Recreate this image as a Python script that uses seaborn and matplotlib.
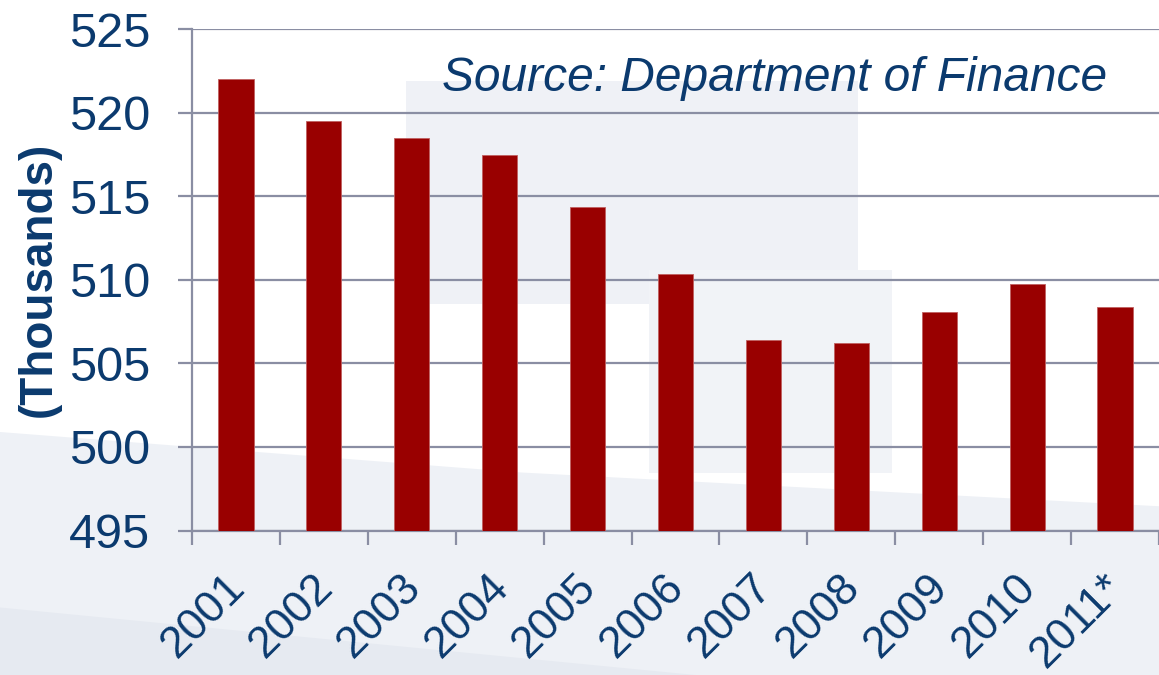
import numpy as np
import pandas as pd
import matplotlib
matplotlib.use("Agg")
import matplotlib.pyplot as plt
from matplotlib.patches import Polygon
from matplotlib.transforms import ScaledTranslation
import seaborn as sns

years = ["2001", "2002", "2003", "2004", "2005", "2006",
         "2007", "2008", "2009", "2010", "2011*"]
enrollment = [522.0, 519.5, 518.5, 517.45, 514.35, 510.35,
              506.4, 506.2, 508.1, 509.75, 508.4]
y_ticks = [495, 500, 505, 510, 515, 520, 525]

navy = "#0b3a6e"
grid_gray = "#8a8ea3"
bar_red = "#990000"

sns.set_style("white")
plt.rcParams["font.family"] = ["Liberation Sans", "DejaVu Sans"]

df = pd.DataFrame({"year": years, "value": enrollment})

fig = plt.figure(figsize=(11.59, 6.75), dpi=100)
fig.patch.set_facecolor("white")

# faint backdrop (washed-out photo look), on its own axes behind everything
bg = fig.add_axes([0, 0, 1, 1], zorder=-10)
bg.set_xlim(0, 1)
bg.set_ylim(0, 1)
bg.axis("off")
bg.add_patch(Polygon([[0, 0], [0, 0.36], [0.45, 0.30], [1, 0.25], [1, 0.0]],
                     closed=True, facecolor="#eef1f6", edgecolor="none"))
bg.add_patch(Polygon([[0, 0], [0, 0.10], [0.6, 0.0]],
                     closed=True, facecolor="#e6eaf1", edgecolor="none"))
bg.add_patch(Polygon([[0.35, 0.55], [0.35, 0.88], [0.74, 0.88], [0.74, 0.55]],
                     closed=True, facecolor="#eff1f6", edgecolor="none"))
bg.add_patch(Polygon([[0.56, 0.30], [0.56, 0.60], [0.77, 0.60], [0.77, 0.30]],
                     closed=True, facecolor="#f1f3f7", edgecolor="none"))

ax = fig.add_axes([0.1657, 0.214, 0.8343, 0.743], zorder=1)
ax.set_facecolor("none")

sns.barplot(data=df, x="year", y="value", color=bar_red, width=0.4,
            saturation=1, edgecolor="#c06060", linewidth=0.6, ax=ax, zorder=3)

ax.set_ylim(495, 525)
ax.set_xlim(-0.5, len(years) - 0.5)
ax.set_yticks(y_ticks)
ax.yaxis.grid(True, color=grid_gray, linewidth=1.6, zorder=1)
ax.set_axisbelow(True)

for s in ["top", "right"]:
    ax.spines[s].set_visible(False)
for s in ["left", "bottom"]:
    ax.spines[s].set_color(grid_gray)
    ax.spines[s].set_linewidth(1.6)

ax.tick_params(axis="y", length=10, width=1.6, color=grid_gray, pad=20,
               labelsize=35, labelcolor=navy, left=True)
ax.set_xticks(range(len(years)))
ax.set_xticklabels(years, rotation=45, ha="right", rotation_mode="anchor")
ax.set_xticks(np.arange(-0.5, len(years), 1.0), minor=True)
ax.tick_params(axis="x", which="major", length=0, pad=26,
               labelsize=32, labelcolor=navy)
ax.tick_params(axis="x", which="minor", length=10, width=1.6,
               color=grid_gray, bottom=True)
shift = ScaledTranslation(-12 / 100, 0, fig.dpi_scale_trans)
for lbl in ax.get_xticklabels():
    lbl.set_transform(lbl.get_transform() + shift)

ax.set_xlabel("")
ax.set_ylabel("(Thousands)", fontsize=33, fontweight="bold", color=navy)
ax.yaxis.set_label_coords(-0.136, 0.5)

ax.text(0.946, 0.902, "Source: Department of Finance", transform=ax.transAxes,
        ha="right", va="center", fontsize=34.5, fontstyle="italic", color=navy)

fig.savefig("out.png", dpi=100, facecolor=fig.get_facecolor())
